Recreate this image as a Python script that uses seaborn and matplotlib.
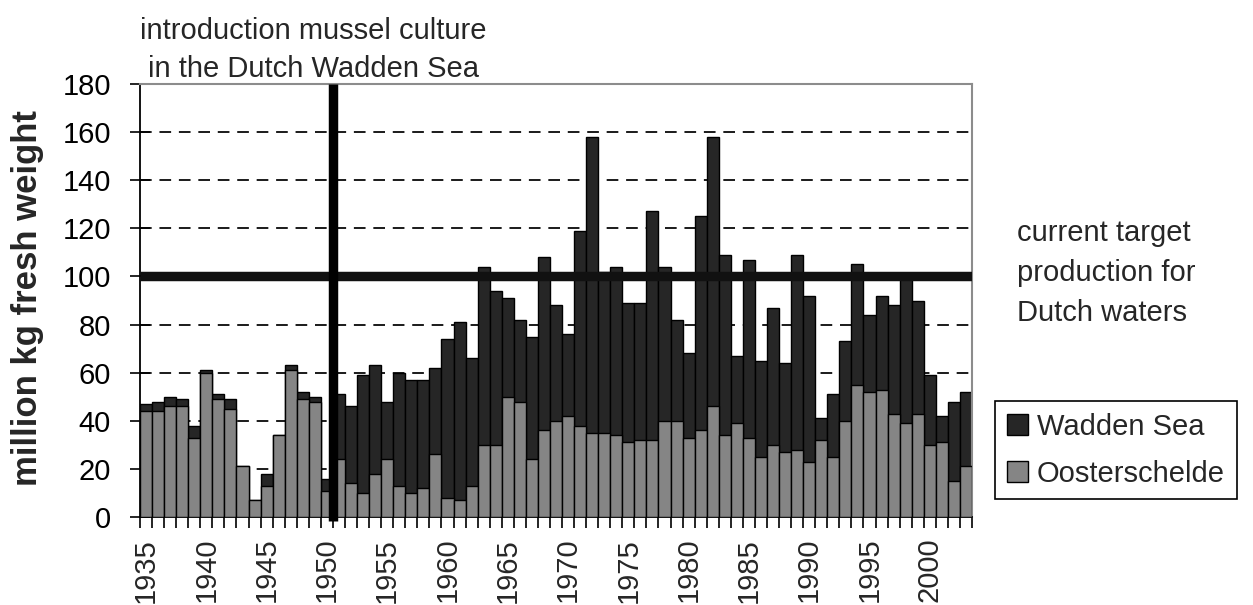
import numpy as np
import pandas as pd
import matplotlib
matplotlib.use("Agg")
import matplotlib.pyplot as plt
from matplotlib.patches import Patch
import seaborn as sns

# Mussel landings, million kg fresh weight, per year
years = list(range(1935, 2004))
oosterschelde = [44, 44, 46, 46, 33, 60, 49, 45, 21, 7,
                 13, 34, 61, 49, 48, 11, 24, 14, 10, 18,
                 24, 13, 10, 12, 26, 8, 7, 13, 30, 30,
                 50, 48, 24, 36, 40, 42, 38, 35, 35, 34,
                 31, 32, 32, 40, 40, 33, 36, 46, 34, 39,
                 33, 25, 30, 27, 28, 23, 32, 25, 40, 55,
                 52, 53, 43, 39, 43, 30, 31, 15, 21]
wadden_sea = [3, 4, 4, 3, 5, 1, 2, 4, 0, 0,
              5, 0, 2, 3, 2, 5, 27, 32, 49, 45,
              24, 47, 47, 45, 36, 66, 74, 53, 74, 64,
              41, 34, 51, 72, 48, 34, 81, 123, 67, 70,
              58, 57, 95, 64, 42, 35, 89, 112, 75, 28,
              74, 40, 57, 37, 81, 69, 9, 26, 33, 50,
              32, 39, 45, 61, 47, 29, 11, 33, 31]
tick_years = list(range(1935, 2001, 5))
target_production = 100
culture_start_year = 1950

df = pd.DataFrame({"year": [str(y) for y in years],
                   "Oosterschelde": oosterschelde,
                   "Wadden Sea": wadden_sea})
df["total"] = df["Oosterschelde"] + df["Wadden Sea"]
order = df["year"].tolist()

sns.set_style("ticks")
plt.rcParams["font.family"] = ["Liberation Sans", "DejaVu Sans"]

FS = 21
W, H = 1253, 605
fig = plt.figure(figsize=(W / 100, H / 100), dpi=100)
ax = fig.add_axes([140 / W, (H - 517) / H, (972 - 140) / W, (517 - 84) / H])

dark = "#262626"
grey = "#858585"

# dashed grid behind bars
for v in range(20, 180, 20):
    if v == target_production:
        continue
    ax.axhline(v, color="#1a1a1a", lw=1.4, ls=(0, (6, 4)), zorder=0)

# stacked bars: full height in dark, Oosterschelde part in grey on top
sns.barplot(data=df, x="year", y="total", order=order, color=dark,
            saturation=1, width=1.0, edgecolor="black", linewidth=1.0,
            ax=ax, zorder=2)
sns.barplot(data=df, x="year", y="Oosterschelde", order=order, color=grey,
            saturation=1, width=1.0, edgecolor="black", linewidth=1.0,
            ax=ax, zorder=3)

n = len(years)
ax.set_xlim(-0.5, n - 0.5)
ax.set_ylim(0, 180)

# target production line and start of mussel culture
ax.plot([-0.5, n - 0.5], [target_production] * 2, color="#111111",
        lw=6.8, solid_capstyle="butt", zorder=5)
xpos = order.index(str(culture_start_year)) + 0.5
ax.plot([xpos, xpos], [-1.5, 180], color="black", lw=6.8,
        solid_capstyle="butt", clip_on=False, zorder=6)

# axes styling
ax.set_yticks(range(0, 181, 20))
ax.tick_params(axis="y", direction="inout", length=14, width=1.2,
               labelsize=FS, pad=14, colors="black")
major = [order.index(str(y)) for y in tick_years]
ax.set_xticks(major)
ax.set_xticklabels([str(y) for y in tick_years], rotation=90)
ax.set_xticks(np.arange(-0.5, n, 1.0), minor=True)
ax.tick_params(axis="x", which="major", length=0, labelsize=FS, pad=15)
ax.tick_params(axis="x", which="minor", direction="out", length=8,
               width=1.2, color="black")
ax.set_xlabel("")
ax.set_ylabel("million kg fresh weight", fontsize=25, fontweight="bold")
ax.yaxis.set_label_coords((44 - 140) / (972 - 140), 0.505)

for side in ("left", "bottom"):
    ax.spines[side].set_color("black")
    ax.spines[side].set_linewidth(1.3)
for side in ("top", "right"):
    ax.spines[side].set_visible(True)
    ax.spines[side].set_color("#8c8c8c")
    ax.spines[side].set_linewidth(1.5)

fig.text(313 / W, 1 - 17 / H,
         "introduction mussel culture\nin the Dutch Wadden Sea",
         ha="center", va="top", fontsize=FS, linespacing=1.45)
fig.text(1017 / W, 1 - 219 / H,
         "current target\nproduction for\nDutch waters",
         ha="left", va="top", fontsize=FS, linespacing=1.55)

handles = [Patch(facecolor=dark, edgecolor="black", label="Wadden Sea"),
           Patch(facecolor=grey, edgecolor="black", label="Oosterschelde")]
leg = fig.legend(handles=handles, loc="upper left",
                 bbox_to_anchor=(995 / W, 1 - 401 / H), fontsize=FS,
                 frameon=True, fancybox=False, framealpha=1,
                 edgecolor="black", borderaxespad=0, borderpad=0.4,
                 handlelength=0.74, handleheight=0.74, handletextpad=0.3,
                 labelspacing=0.65)
leg.get_frame().set_linewidth(1.2)

fig.savefig("out.png", dpi=100)
